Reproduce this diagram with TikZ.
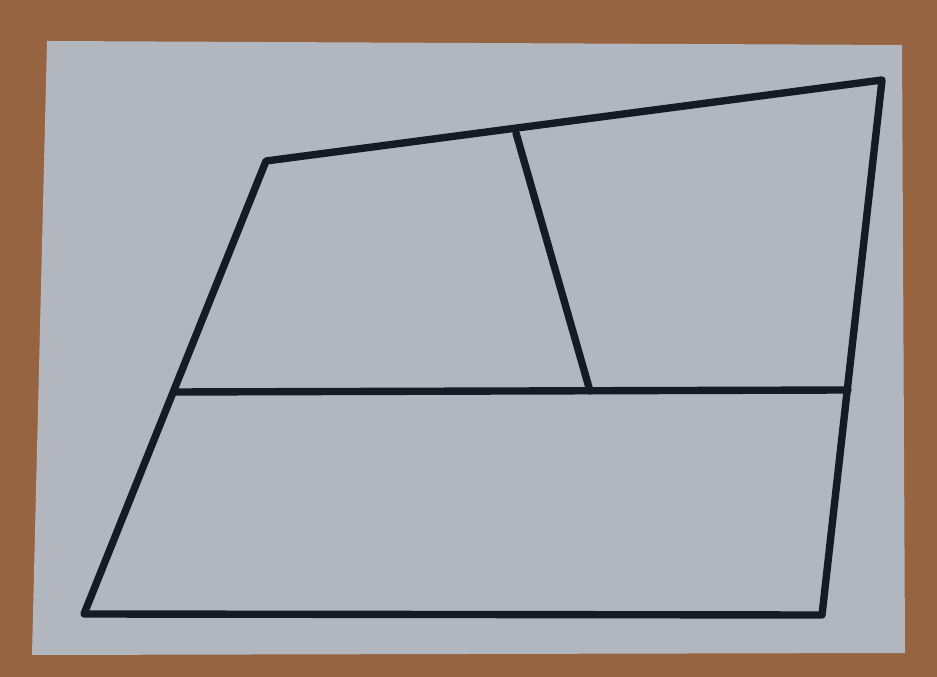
\documentclass[tikz,border=0pt]{standalone}
\begin{document}
\begin{tikzpicture}[x=0.01cm, y=-0.01cm, line join=round, line cap=round]
    % colours
    \definecolor{deskWood}{RGB}{150,100,64}
    \definecolor{paperGrey}{RGB}{178,182,190}
    \definecolor{penInk}{RGB}{22,26,36}

    % Desk and sheet of paper (slightly skewed in the photo)
    \fill[deskWood] (0,0) rectangle (937,677);
    \fill[paperGrey] (47,41) -- (902,45) -- (905,653) -- (32,655) -- cycle;

    % Corners of the drawn figure
    \coordinate (topLeft)   at (266,161);
    \coordinate (topRight)  at (882,80);
    \coordinate (botRight)  at (822,615);
    \coordinate (botLeft)   at (84,614);
    \coordinate (midLeft)   at (175,392);
    \coordinate (midRight)  at (848,390);
    \coordinate (divTop)    at (516,133);
    \coordinate (divBot)    at (590,391);

    % Outline and dividers
    \draw[penInk, line width=2.1pt] (topLeft) -- (topRight) -- (botRight) -- (botLeft) -- cycle;
    \draw[penInk, line width=2.1pt] (midLeft) -- (midRight);
    \draw[penInk, line width=2.1pt] (divTop) -- (divBot);
\end{tikzpicture}
\end{document}
